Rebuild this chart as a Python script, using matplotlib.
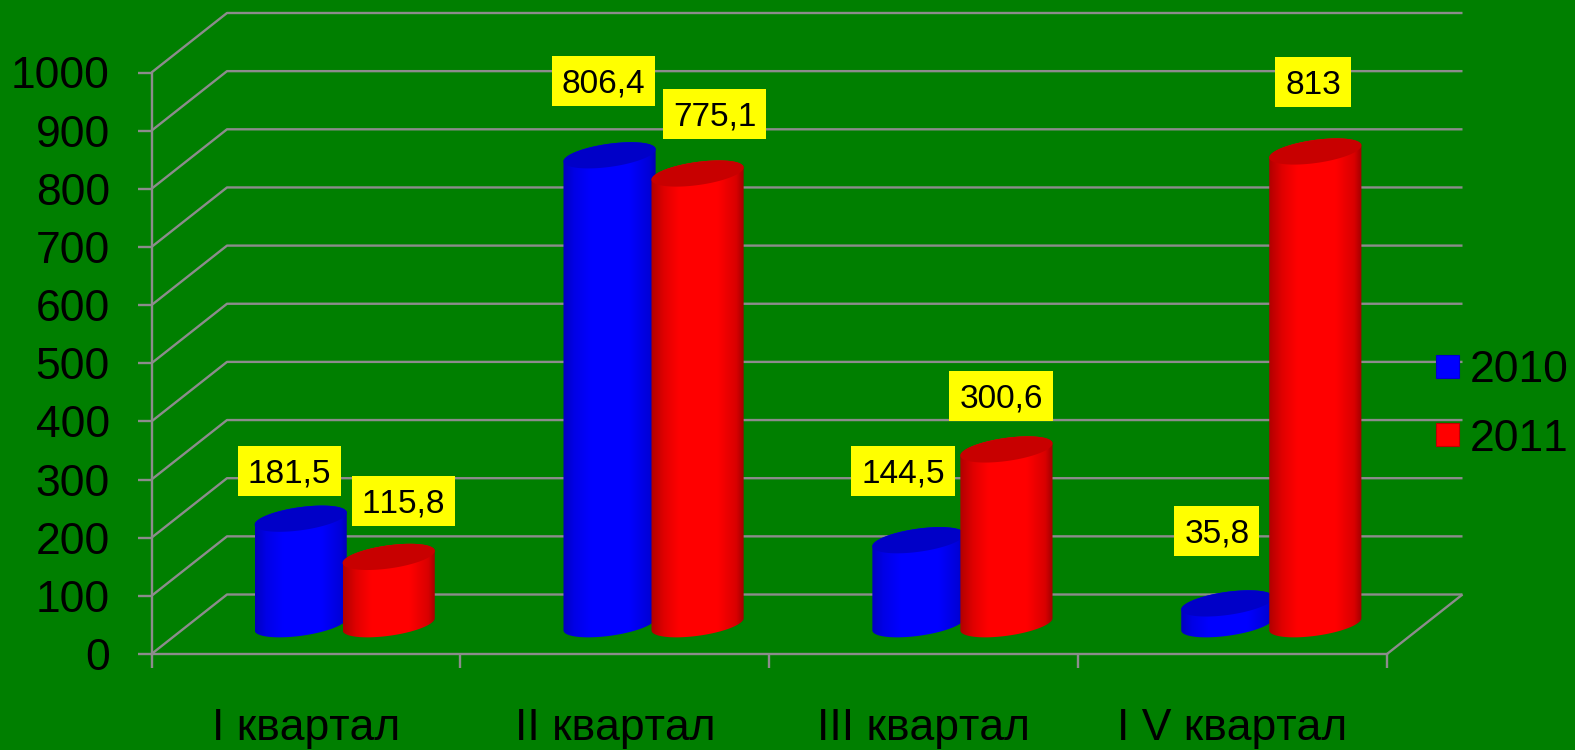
import numpy as np
import matplotlib
matplotlib.use("Agg")
import matplotlib.pyplot as plt
from matplotlib.colors import LinearSegmentedColormap
from matplotlib.patches import Patch, Polygon
from matplotlib.path import Path

categories = ["I квартал", "II квартал", "III квартал", "I V квартал"]
series_names = ["2010", "2011"]
values_2010 = [181.5, 806.4, 144.5, 35.8]
values_2011 = [115.8, 775.1, 300.6, 813]
labels_2010 = ["181,5", "806,4", "144,5", "35,8"]
labels_2011 = ["115,8", "775,1", "300,6", "813"]
y_ticks = list(range(0, 1001, 100))

# ---- styling / layout (pixels are figure pixels at dpi 100) ----
W, H = 1575, 750
BG = "#007f00"
GRID = "#8c8c8c"
FONT = "Liberation Sans"
plt.rcParams["font.family"] = [FONT, "DejaVu Sans"]
plt.rcParams["text.kerning_factor"] = 6
X0, X1, Y0, Y1 = 151.5, 1387.0, 654.0, 72.5
PX_X = (X1 - X0) / 4
PX_Y = (Y0 - Y1) / 1000
DEPTH_X = 75.5 / PX_X
DEPTH_Y = 59.5 / PX_Y
A, B, TILT = 46.5, 11.5, np.deg2rad(8)
SERIES_SHIFT = [-43.0, 45.0]
OFF_2010 = [(-11, 47.5), (-6, 74.5), (-15.5, 69), (-10.5, 72)]
OFF_2011 = [(15, 56), (17, 60), (-5.5, 53), (-2, 69)]
TEXT_DROP = 3

fig = plt.figure(figsize=(W / 100, H / 100), dpi=100, facecolor=BG)
ax = fig.add_axes([X0 / W, 1 - Y0 / H, (X1 - X0) / W, (Y0 - Y1) / H])
ax.patch.set_visible(False)
ax.set_xlim(0, 4)
ax.set_ylim(0, 1000)
ax.set_autoscale_on(False)

for s in ("top", "right"):
    ax.spines[s].set_visible(False)
for s in ("left", "bottom"):
    ax.spines[s].set_color(GRID)
    ax.spines[s].set_linewidth(1.7)

ax.set_yticks(y_ticks)
ax.set_xticks(range(5))
ax.set_xticklabels([])
ax.set_xticks(np.arange(4) + 0.5, categories, minor=True)
ax.tick_params(axis="y", length=10, width=1.7, color=GRID, pad=20, labelsize=32, labelcolor="black")
ax.tick_params(axis="x", which="major", length=10, width=1.7, color=GRID)
ax.tick_params(axis="x", which="minor", length=0, pad=39, labelsize=32, labelcolor="black")

line_kw = dict(color=GRID, lw=1.7, zorder=1, clip_on=False, solid_capstyle="butt")
for v in y_ticks:
    ax.plot([0, DEPTH_X, 4 + DEPTH_X], [v, v + DEPTH_Y, v + DEPTH_Y], **line_kw)
ax.plot([4, 4 + DEPTH_X], [0, DEPTH_Y], **line_kw)

shade_blue = LinearSegmentedColormap.from_list(
    "b", [(0, "#0000c0"), (0.12, "#0000e6"), (0.3, "#0000ff"), (0.72, "#0000ff"), (0.93, "#0000d8"), (1, "#0000b0")])
shade_red = LinearSegmentedColormap.from_list(
    "r", [(0, "#b00000"), (0.14, "#e00000"), (0.3, "#ff0000"), (0.72, "#ff0000"), (0.92, "#d80000"), (1, "#a00000")])
gradient = np.linspace(0, 1, 256).reshape(1, -1)


def ell(cx, cy, t):
    dx = A * np.cos(t) * np.cos(TILT) - B * np.sin(t) * np.sin(TILT)
    dy = A * np.cos(t) * np.sin(TILT) + B * np.sin(t) * np.cos(TILT)
    return np.column_stack([cx + dx / PX_X, cy + dy / PX_Y])


def cylinder(cx, value, cmap, top_color, z):
    base = DEPTH_Y / 2
    t0 = np.arctan2(-B * np.sin(TILT), A * np.cos(TILT))
    upper = ell(cx, base + value, np.linspace(t0, t0 + np.pi, 80))
    lower = ell(cx, base, np.linspace(t0 + np.pi, t0 + 2 * np.pi, 80))
    body = Polygon(np.vstack([upper, lower]), closed=True, fc="none", ec="none", zorder=z, clip_on=False)
    ax.add_patch(body)
    half = np.hypot(A * np.cos(TILT), B * np.sin(TILT)) / PX_X
    im = ax.imshow(gradient, cmap=cmap, aspect="auto", zorder=z, interpolation="bilinear",
                   extent=[cx - half, cx + half, 0, base + value + 40])
    im.set_clip_path(body)
    top = ell(cx, base + value, np.linspace(0, 2 * np.pi, 120))
    ax.add_patch(Polygon(top, closed=True, fc=top_color, ec="none", zorder=z + 0.1, clip_on=False))


def label_box(x0, y0, w, h, mutation_size):
    cy = y0 + h / 2 + TEXT_DROP
    return Path([(x0 - 10, cy - 25), (x0 + w + 10, cy - 25), (x0 + w + 10, cy + 25),
                 (x0 - 10, cy + 25), (x0 - 10, cy - 25)], closed=True)


for i in range(4):
    c = i + 0.5 + DEPTH_X / 2
    for j, (vals, labs, offs, cmap, top) in enumerate([
        (values_2010, labels_2010, OFF_2010, shade_blue, "#0000c8"),
        (values_2011, labels_2011, OFF_2011, shade_red, "#c80000"),
    ]):
        cx = c + SERIES_SHIFT[j] / PX_X
        cylinder(cx, vals[i], cmap, top, 2 + i + j * 0.5)
        ax.annotate(labs[i], xy=(cx, DEPTH_Y / 2 + vals[i]), xytext=(offs[i][0], offs[i][1] - TEXT_DROP),
                    textcoords="offset pixels",
                    ha="center", va="center", fontsize=24, color="black", zorder=10, annotation_clip=False,
                    bbox=dict(boxstyle=label_box, fc="#ffff00", ec="none"))

ax.set_xlim(0, 4)
ax.set_ylim(0, 1000)

handles = [Patch(fc="#0000ff", ec="#0000d0", lw=0.8), Patch(fc="#ff0000", ec="#c00000", lw=0.8)]
fig.legend(handles, series_names, loc="upper left", bbox_to_anchor=(1436 / W, 1 - 350 / H), frameon=False,
           fontsize=32, handlelength=0.52, handleheight=0.423, handletextpad=0.25, labelspacing=0.62,
           borderpad=0, borderaxespad=0, labelcolor="black")

fig.savefig("out.png", dpi=100, facecolor=BG)
